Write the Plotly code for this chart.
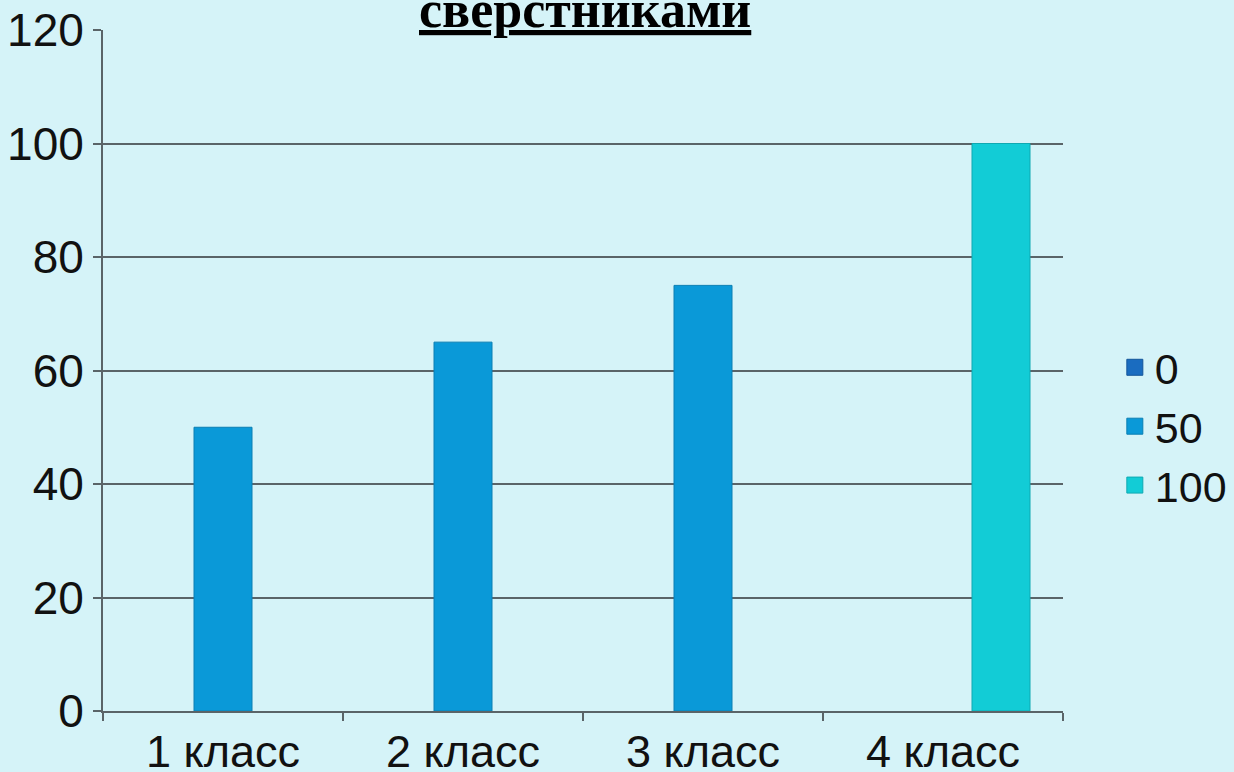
import plotly.graph_objects as go

# data
classes = ["1 класс", "2 класс", "3 класс", "4 класс"]
series_names = ["0", "50", "100"]
values_0 = [0, 0, 0, 0]
values_50 = [50, 65, 75, 0]
values_100 = [0, 0, 0, 100]
title_text = "сверстниками"

colors = ["#1a6cc0", "#0a99d8", "#12ccd6"]
edge = ["#15569a", "#0a7fb3", "#0fa9b2"]

fig = go.Figure()
for name, vals, c, e in zip(series_names, [values_0, values_50, values_100], colors, edge):
    # zero bars are not drawn at all in the reference
    fig.add_trace(go.Bar(
        x=classes, y=[v if v else None for v in vals], name=name,
        legendgroup=name, showlegend=False,
        marker=dict(color=c, line=dict(color=e, width=1)),
    ))
    # legend entry with a bigger square swatch
    fig.add_trace(go.Scatter(
        x=[None], y=[None], mode="markers", name=name, legendgroup=name,
        marker=dict(symbol="square", size=16, color=c, line=dict(color=e, width=1)),
    ))

grid = "#5a6468"

fig.update_layout(
    width=1234,
    height=772,
    barmode="group",
    bargap=0.275,
    bargroupgap=0,
    paper_bgcolor="#d5f3f8",
    plot_bgcolor="#d5f3f8",
    margin=dict(l=103, r=171, t=30, b=61, autoexpand=False),
    font=dict(family="Liberation Sans, Arial, sans-serif", color="#111111"),
    showlegend=True,
    legend=dict(
        x=1.054, y=0.418, xanchor="left", yanchor="middle",
        font=dict(size=43, color="#111111"),
        bgcolor="rgba(0,0,0,0)",
        itemwidth=30,
        tracegroupgap=0,
    ),
    annotations=[dict(
        text="<b><u>" + title_text + "</u></b>",
        xref="paper", yref="paper", x=0.502, y=1,
        xanchor="center", yanchor="bottom", yshift=-10,
        showarrow=False,
        font=dict(family="Liberation Serif, Times New Roman, serif", size=52, color="#000000"),
    )],
)

fig.update_xaxes(
    showline=True, linecolor=grid, linewidth=2,
    ticks="outside", tickson="boundaries", ticklen=8, tickcolor=grid, tickwidth=2,
    tickfont=dict(size=45), showgrid=False, automargin=False,
)
fig.update_yaxes(
    range=[0, 120], dtick=20,
    showline=True, linecolor=grid, linewidth=2,
    ticks="outside", ticklen=8, tickcolor=grid, tickwidth=2,
    showgrid=True, gridcolor=grid, gridwidth=2,
    tickfont=dict(size=46), zeroline=False, automargin=False,
)

fig.write_html("out.html", config={"displayModeBar": False},
               post_script="document.body.style.margin='0';")
